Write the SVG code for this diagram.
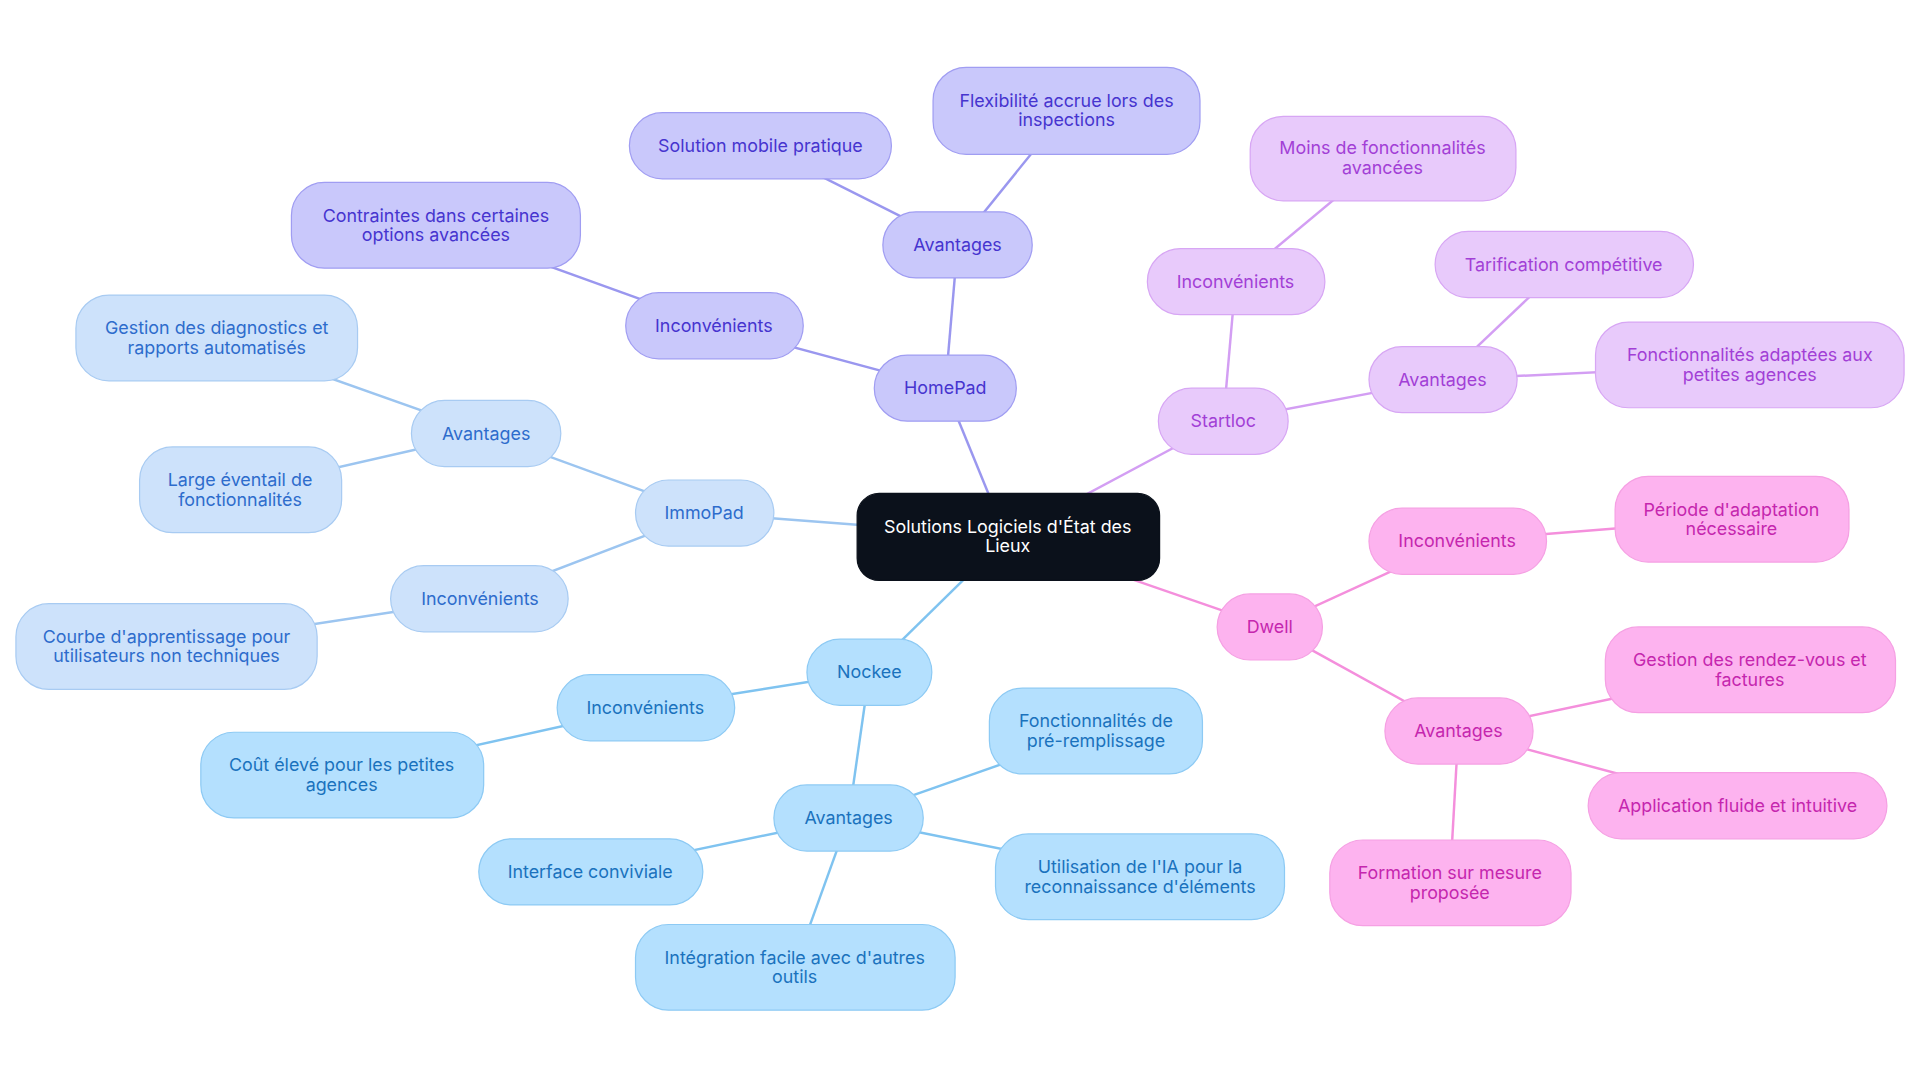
<svg xmlns="http://www.w3.org/2000/svg" width="1920" height="1083" viewBox="0 0 1920 1083">
<style>
text{font-family:Inter,"Noto Sans",sans-serif;font-size:14.6px;text-anchor:middle}
.c rect{fill:#0b111b;stroke:#0b111b}.c text{fill:#fff}
.h rect{fill:#c9c8fb;stroke:#a09df2}.h text{fill:#4634cf}
.s rect{fill:#e8cafb;stroke:#d7a6f4}.s text{fill:#a23fd6}
.d rect{fill:#fdb3ef;stroke:#f5a0e3}.d text{fill:#c526ae}
.n rect{fill:#b4e0fe;stroke:#8dcaf4}.n text{fill:#1a72bd}
.i rect{fill:#cde2fb;stroke:#a8cbf2}.i text{fill:#2d6ccc}
#edges line{stroke-width:2}
</style>
<rect width="1920" height="1083" fill="#fff"/>
<g transform="scale(1.22449)">
<g id="edges">
<g stroke="#9a97ef"><line x1="808" y1="405" x2="772" y2="317"/><line x1="772" y1="317" x2="782" y2="200"/><line x1="782" y1="200" x2="621" y2="119"/><line x1="782" y1="200" x2="871" y2="90"/><line x1="772" y1="317" x2="583" y2="266"/><line x1="583" y1="266" x2="356" y2="184"/></g>
<g stroke="#d39ef3"><line x1="823" y1="438" x2="999" y2="344"/><line x1="999" y1="344" x2="1009" y2="230"/><line x1="1009" y1="230" x2="1129" y2="130"/><line x1="999" y1="344" x2="1178" y2="310"/><line x1="1178" y1="310" x2="1277" y2="216"/><line x1="1178" y1="310" x2="1429" y2="298"/></g>
<g stroke="#f48fdc"><line x1="823" y1="438" x2="1037" y2="512"/><line x1="1037" y1="512" x2="1190" y2="442"/><line x1="1190" y1="442" x2="1414" y2="424"/><line x1="1037" y1="512" x2="1191" y2="597"/><line x1="1191" y1="597" x2="1429" y2="547"/><line x1="1191" y1="597" x2="1419" y2="658"/><line x1="1191" y1="597" x2="1184" y2="721"/></g>
<g stroke="#7fc3f0"><line x1="823" y1="438" x2="710" y2="549"/><line x1="710" y1="549" x2="527" y2="578"/><line x1="527" y1="578" x2="279" y2="633"/><line x1="710" y1="549" x2="693" y2="668"/><line x1="693" y1="668" x2="895" y2="597"/><line x1="693" y1="668" x2="931" y2="716"/><line x1="693" y1="668" x2="482" y2="712"/><line x1="693" y1="668" x2="649" y2="790"/></g>
<g stroke="#9cc5f0"><line x1="823" y1="438" x2="575" y2="419"/><line x1="575" y1="419" x2="397" y2="354"/><line x1="397" y1="354" x2="177" y2="276"/><line x1="397" y1="354" x2="196" y2="400"/><line x1="575" y1="419" x2="392" y2="489"/><line x1="392" y1="489" x2="136" y2="528"/></g>
</g>
<g id="center" class="c"><rect x="700" y="403" width="247" height="71" rx="18"/><text x="823" y="435">Solutions Logiciels d'État des</text><text x="823" y="451">Lieux</text></g>
<g id="homepad" class="h"><rect x="714" y="290" width="116" height="54" rx="27"/><text x="772" y="322">HomePad</text></g>
<g id="hp-av" class="h"><rect x="721" y="173" width="122" height="54" rx="27"/><text x="782" y="205">Avantages</text></g>
<g id="hp-av1" class="h"><rect x="514" y="92" width="214" height="54" rx="27"/><text x="621" y="124">Solution mobile pratique</text></g>
<g id="hp-av2" class="h"><rect x="762" y="55" width="218" height="71" rx="27"/><text x="871" y="87">Flexibilité accrue lors des</text><text x="871" y="103">inspections</text></g>
<g id="hp-in" class="h"><rect x="511" y="239" width="145" height="54" rx="27"/><text x="583" y="271">Inconvénients</text></g>
<g id="hp-in1" class="h"><rect x="238" y="149" width="236" height="70" rx="27"/><text x="356" y="181">Contraintes dans certaines</text><text x="356" y="197">options avancées</text></g>
<g id="startloc" class="s"><rect x="946" y="317" width="106" height="54" rx="27"/><text x="999" y="349">Startloc</text></g>
<g id="st-in" class="s"><rect x="937" y="203" width="145" height="54" rx="27"/><text x="1009" y="235">Inconvénients</text></g>
<g id="st-in1" class="s"><rect x="1021" y="95" width="217" height="69" rx="27"/><text x="1129" y="126">Moins de fonctionnalités</text><text x="1129" y="142">avancées</text></g>
<g id="st-av" class="s"><rect x="1118" y="283" width="121" height="54" rx="27"/><text x="1178" y="315">Avantages</text></g>
<g id="st-av1" class="s"><rect x="1172" y="189" width="211" height="54" rx="27"/><text x="1277" y="221">Tarification compétitive</text></g>
<g id="st-av2" class="s"><rect x="1303" y="263" width="252" height="70" rx="27"/><text x="1429" y="295">Fonctionnalités adaptées aux</text><text x="1429" y="311">petites agences</text></g>
<g id="dwell" class="d"><rect x="994" y="485" width="86" height="54" rx="27"/><text x="1037" y="517">Dwell</text></g>
<g id="dw-in" class="d"><rect x="1118" y="415" width="145" height="54" rx="27"/><text x="1190" y="447">Inconvénients</text></g>
<g id="dw-in1" class="d"><rect x="1319" y="389" width="191" height="70" rx="27"/><text x="1414" y="421">Période d'adaptation</text><text x="1414" y="437">nécessaire</text></g>
<g id="dw-av" class="d"><rect x="1131" y="570" width="121" height="54" rx="27"/><text x="1191" y="602">Avantages</text></g>
<g id="dw-av1" class="d"><rect x="1311" y="512" width="237" height="70" rx="27"/><text x="1429" y="544">Gestion des rendez-vous et</text><text x="1429" y="560">factures</text></g>
<g id="dw-av2" class="d"><rect x="1297" y="631" width="244" height="54" rx="27"/><text x="1419" y="663">Application fluide et intuitive</text></g>
<g id="dw-av3" class="d"><rect x="1086" y="686" width="197" height="70" rx="27"/><text x="1184" y="718">Formation sur mesure</text><text x="1184" y="734">proposée</text></g>
<g id="nockee" class="n"><rect x="659" y="522" width="102" height="54" rx="27"/><text x="710" y="554">Nockee</text></g>
<g id="nk-in" class="n"><rect x="455" y="551" width="145" height="54" rx="27"/><text x="527" y="583">Inconvénients</text></g>
<g id="nk-in1" class="n"><rect x="164" y="598" width="231" height="70" rx="27"/><text x="279" y="630">Coût élevé pour les petites</text><text x="279" y="646">agences</text></g>
<g id="nk-av" class="n"><rect x="632" y="641" width="122" height="54" rx="27"/><text x="693" y="673">Avantages</text></g>
<g id="nk-av1" class="n"><rect x="808" y="562" width="174" height="70" rx="27"/><text x="895" y="594">Fonctionnalités de</text><text x="895" y="610">pré-remplissage</text></g>
<g id="nk-av2" class="n"><rect x="813" y="681" width="236" height="70" rx="27"/><text x="931" y="713">Utilisation de l'IA pour la</text><text x="931" y="729">reconnaissance d'éléments</text></g>
<g id="nk-av3" class="n"><rect x="391" y="685" width="183" height="54" rx="27"/><text x="482" y="717">Interface conviviale</text></g>
<g id="nk-av4" class="n"><rect x="519" y="755" width="261" height="70" rx="27"/><text x="649" y="787">Intégration facile avec d'autres</text><text x="649" y="803">outils</text></g>
<g id="immopad" class="i"><rect x="519" y="392" width="113" height="54" rx="27"/><text x="575" y="424">ImmoPad</text></g>
<g id="im-av" class="i"><rect x="336" y="327" width="122" height="54" rx="27"/><text x="397" y="359">Avantages</text></g>
<g id="im-av1" class="i"><rect x="62" y="241" width="230" height="70" rx="27"/><text x="177" y="273">Gestion des diagnostics et</text><text x="177" y="289">rapports automatisés</text></g>
<g id="im-av2" class="i"><rect x="114" y="365" width="165" height="70" rx="27"/><text x="196" y="397">Large éventail de</text><text x="196" y="413">fonctionnalités</text></g>
<g id="im-in" class="i"><rect x="319" y="462" width="145" height="54" rx="27"/><text x="392" y="494">Inconvénients</text></g>
<g id="im-in1" class="i"><rect x="13" y="493" width="246" height="70" rx="27"/><text x="136" y="525">Courbe d'apprentissage pour</text><text x="136" y="541">utilisateurs non techniques</text></g>
</g>
</svg>
